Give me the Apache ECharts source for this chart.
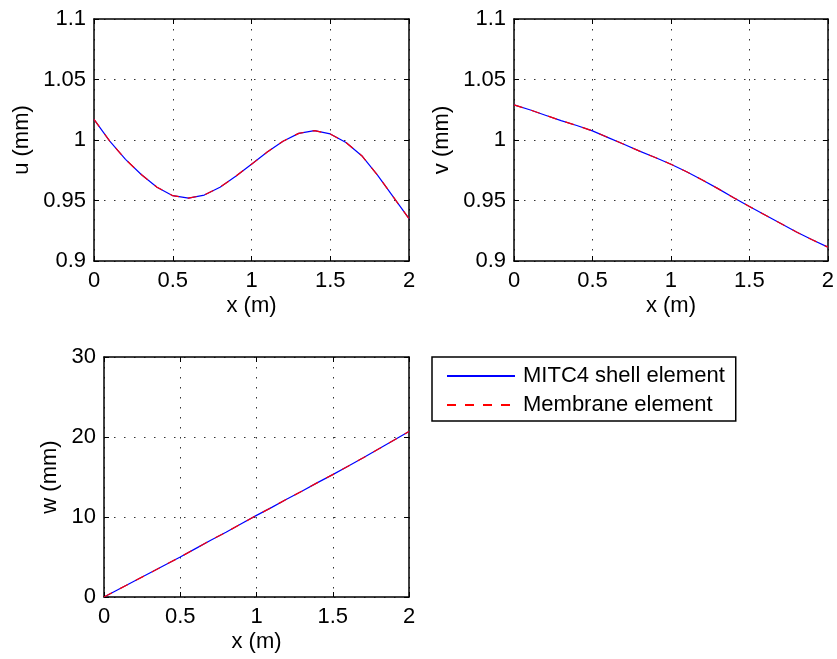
<!DOCTYPE html>
<html>
<head>
<meta charset="utf-8">
<script src="https://cdn.jsdelivr.net/npm/echarts@6/dist/echarts.min.js"></script>
<style>
html,body{margin:0;padding:0;background:#fff;}
#chart{width:837px;height:659px;}
</style>
</head>
<body>
<div id="chart"></div>
<script>
// Node positions along the beam (m)
var xPos = [0, 0.1, 0.2, 0.3, 0.4, 0.5, 0.6, 0.7, 0.8, 0.9, 1.0, 1.1, 1.2, 1.3, 1.4, 1.5, 1.6, 1.7, 1.8, 1.9, 2.0];
// u displacement (mm)
var uShell    = [1.017, 0.999, 0.984, 0.9715, 0.961, 0.954, 0.952, 0.9545, 0.961, 0.970, 0.980, 0.990, 0.999, 1.0055, 1.0077, 1.005, 0.998, 0.987, 0.971, 0.953, 0.935];
var uMembrane = [1.017, 0.999, 0.984, 0.9715, 0.961, 0.954, 0.952, 0.9545, 0.961, 0.970, 0.980, 0.990, 0.999, 1.0055, 1.0077, 1.005, 0.998, 0.987, 0.971, 0.953, 0.935];
// v displacement (mm)
var vShell    = [1.029, 1.025, 1.0205, 1.016, 1.012, 1.0075, 1.002, 0.9965, 0.9908, 0.9855, 0.980, 0.9737, 0.967, 0.9598, 0.9523, 0.945, 0.938, 0.931, 0.924, 0.9175, 0.9115];
var vMembrane = [1.029, 1.025, 1.0205, 1.016, 1.012, 1.0075, 1.002, 0.9965, 0.9908, 0.9855, 0.980, 0.9737, 0.967, 0.9598, 0.9523, 0.945, 0.938, 0.931, 0.924, 0.9175, 0.9115];
// w displacement (mm)
var wShell    = [0, 1.0, 2.0, 3.0, 4.0, 5.0, 6.05, 7.1, 8.1, 9.15, 10.2, 11.2, 12.25, 13.25, 14.3, 15.3, 16.35, 17.4, 18.5, 19.6, 20.7];
var wMembrane = [0, 1.0, 2.0, 3.0, 4.0, 5.0, 6.05, 7.1, 8.1, 9.15, 10.2, 11.2, 12.25, 13.25, 14.3, 15.3, 16.35, 17.4, 18.5, 19.6, 20.7];

var seriesNames = ['MITC4 shell element', 'Membrane element'];
var xTitle = 'x (m)';
var yTitles = ['u (mm)', 'v (mm)', 'w (mm)'];
var yRanges = [[0.9, 1.1, 0.05], [0.9, 1.1, 0.05], [0, 30, 10]];

var FONT = 'Liberation Sans, Arial, sans-serif';
var FS = 22;

function pairs(ys) {
  return xPos.map(function (x, i) { return [x, ys[i]]; });
}

var grids = [
  {left: 94, top: 19, width: 315, height: 242},
  {left: 514, top: 19, width: 315, height: 242},
  {left: 104, top: 357, width: 305, height: 240}
];
var yNameGaps = [61, 61, 43];

var xAxes = [], yAxes = [], series = [];
var frame = {show: true, onZero: false, lineStyle: {color: '#000', width: 1.5}};
var dotted = {show: true, lineStyle: {color: '#333', width: 1, type: [1.5, 8.5]}};

grids.forEach(function (g, i) {
  xAxes.push({
    gridIndex: i, type: 'value', min: 0, max: 2, interval: 0.5, position: 'bottom',
    axisLine: frame,
    axisTick: {show: true, inside: true, length: 5, lineStyle: {color: '#000'}},
    axisLabel: {color: '#000', fontFamily: FONT, fontSize: FS, margin: 9},
    splitLine: dotted,
    name: xTitle, nameLocation: 'middle', nameGap: 34,
    nameTextStyle: {color: '#000', fontFamily: FONT, fontSize: FS}
  });
  xAxes.push({
    gridIndex: i, type: 'value', min: 0, max: 2, interval: 0.5, position: 'top',
    axisLine: frame,
    axisTick: {show: true, inside: true, length: 5, lineStyle: {color: '#000'}},
    axisLabel: {show: false}, splitLine: {show: false}
  });
  var r = yRanges[i];
  yAxes.push({
    gridIndex: i, type: 'value', min: r[0], max: r[1], interval: r[2], position: 'left',
    axisLine: frame,
    axisTick: {show: true, inside: true, length: 5, lineStyle: {color: '#000'}},
    axisLabel: {color: '#000', fontFamily: FONT, fontSize: FS, margin: 8},
    splitLine: dotted,
    name: yTitles[i], nameLocation: 'middle', nameGap: yNameGaps[i], nameRotate: 90,
    nameTextStyle: {color: '#000', fontFamily: FONT, fontSize: FS}
  });
  yAxes.push({
    gridIndex: i, type: 'value', min: r[0], max: r[1], interval: r[2], position: 'right',
    axisLine: frame,
    axisTick: {show: true, inside: true, length: 5, lineStyle: {color: '#000'}},
    axisLabel: {show: false}, splitLine: {show: false}
  });
});

var shellData = [uShell, vShell, wShell];
var memData = [uMembrane, vMembrane, wMembrane];
for (var i = 0; i < 3; i++) {
  series.push({
    name: seriesNames[0], type: 'line', xAxisIndex: 2 * i, yAxisIndex: 2 * i,
    data: pairs(shellData[i]), symbol: 'none', animation: false,
    lineStyle: {color: '#0000ff', width: 1.2}, itemStyle: {color: '#0000ff'}
  });
  series.push({
    name: seriesNames[1], type: 'line', xAxisIndex: 2 * i, yAxisIndex: 2 * i,
    data: pairs(memData[i]), symbol: 'none', animation: false,
    lineStyle: {color: '#ff0000', width: 1.2, type: [9, 9]}, itemStyle: {color: '#ff0000'}
  });
}

var chart = echarts.init(document.getElementById('chart'), null, {renderer: 'canvas'});
chart.setOption({
  backgroundColor: '#fff',
  animation: false,
  grid: grids,
  xAxis: xAxes,
  yAxis: yAxes,
  legend: {
    data: seriesNames, orient: 'vertical', left: 432, top: 357,
    padding: [8, 11, 5, 14], itemGap: 7, itemWidth: 68, itemHeight: 14,
    borderColor: '#000', borderWidth: 1.5, borderRadius: 0, backgroundColor: '#fff',
    itemStyle: {opacity: 0},
    textStyle: {color: '#000', fontFamily: FONT, fontSize: FS, padding: [0, 0, 0, 3]},
    selectedMode: false
  },
  series: series
});
</script>
</body>
</html>
